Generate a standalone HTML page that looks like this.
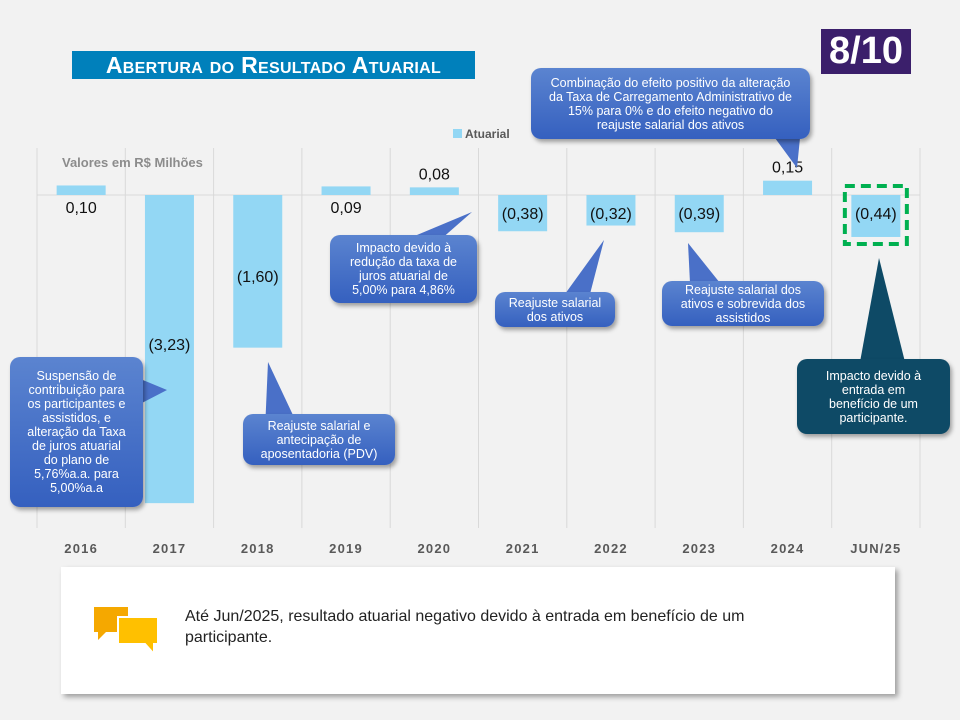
<!DOCTYPE html>
<html><head><meta charset="utf-8">
<style>
body{margin:0;width:960px;height:720px;background:#f2f2f2;font-family:"Liberation Sans",sans-serif;position:relative;overflow:hidden}
.abs{position:absolute}
.call{position:absolute;box-sizing:border-box;background:linear-gradient(#5b84d0,#3560bf);color:#fff;font-size:12.5px;text-align:center;border-radius:10px;box-shadow:2px 3px 4px rgba(0,0,0,.35);line-height:14px;display:flex;align-items:center;justify-content:center}
</style></head><body>
<div class="abs" style="left:72px;top:51px;width:403px;height:28px;background:#0080bb;color:#fff;font-weight:bold;font-size:23px;line-height:29px;text-align:center;font-variant:small-caps;letter-spacing:0.3px">Abertura do Resultado Atuarial</div>
<div class="abs" style="left:821px;top:29px;width:90px;height:45px;background:#3b1f6b;color:#fff;font-weight:bold;font-size:38px;line-height:45px;text-align:center">8/10</div>
<svg class="abs" style="left:0;top:0" width="960" height="720">
<g id="g"></g>
</svg>
<div class="call" style="left:10px;top:357px;width:133px;height:150px;padding:0 14px">Suspensão de contribuição para os participantes e assistidos, e alteração da Taxa de juros atuarial do plano de 5,76%a.a. para 5,00%a.a</div>
<div class="call" style="left:243px;top:414px;width:152px;height:51px;padding:0 10px">Reajuste salarial e antecipação de aposentadoria (PDV)</div>
<div class="call" style="left:330px;top:235px;width:147px;height:68px;padding:0 14px">Impacto devido à redução da taxa de juros atuarial de 5,00% para 4,86%</div>
<div class="call" style="left:495px;top:292px;width:120px;height:35px;padding:0 8px">Reajuste salarial dos ativos</div>
<div class="call" style="left:662px;top:281px;width:162px;height:45px;padding:0 10px">Reajuste salarial dos ativos e sobrevida dos assistidos</div>
<div class="call" style="left:531px;top:68px;width:279px;height:71px;padding:0 16px">Combinação do efeito positivo da alteração da Taxa de Carregamento Administrativo de 15% para 0% e do efeito negativo do reajuste salarial dos ativos</div>
<div class="call" style="left:797px;top:359px;width:153px;height:75px;background:#0e4a66;padding:0 18px">Impacto devido à entrada em benefício de um participante.</div>
<div class="abs" style="left:61px;top:567px;width:834px;height:127px;background:#fff;box-shadow:3px 3px 5px rgba(0,0,0,.35)"></div>
<svg class="abs" style="left:92px;top:605px" width="70" height="52">
<path d="M2 2h34v25h-22l-8 8v-8h-4z" fill="#f5a800"/>
<path d="M26 12h40v27h-4v10l-9-10h-27z" fill="#ffc000" stroke="#fff" stroke-width="2"/>
</svg>
<div class="abs" style="left:185px;top:606px;width:640px;font-size:16px;line-height:21px;color:#222">Até Jun/2025, resultado atuarial negativo devido à entrada em benefício de um participante.</div>
<script>
const categories=["2016","2017","2018","2019","2020","2021","2022","2023","2024","JUN/25"];
const values=[0.10,-3.23,-1.60,0.09,0.08,-0.38,-0.32,-0.39,0.15,-0.44];
const labels=["0,10","(3,23)","(1,60)","0,09","0,08","(0,38)","(0,32)","(0,39)","0,15","(0,44)"];
const ns="http://www.w3.org/2000/svg";
const g=document.getElementById('g');
const x0=37,x1=920,zeroY=195,k=95.4,bw=49;
const cw=(x1-x0)/categories.length;
const xc=i=>x0+cw*(i+0.5);
const y=v=>zeroY-v*k;
function mk(t,a){const e=document.createElementNS(ns,t);for(const n in a)e.setAttribute(n,a[n]);g.appendChild(e);return e;}
for(let i=0;i<=categories.length;i++){const l=mk('line',{x1:x0+cw*i,x2:x0+cw*i,y1:148,y2:528,stroke:'#d9d9d9'});

}
const z=mk('line',{x1:x0,x2:x1,y1:zeroY,y2:zeroY,stroke:'#d9d9d9'});


values.forEach((v,i)=>{
const top=Math.min(y(v),zeroY),h=Math.abs(y(v)-zeroY);
const r=mk('rect',{x:xc(i)-bw/2,y:top,width:bw,height:h,fill:'#93d7f4'});


let ly;
if(v>=0){ly=(i==0||i==3)?zeroY+18:y(v)-8;}
else{ly=(i==1)?350:(i==2?282:zeroY+24);}
const t=mk('text',{x:xc(i),y:ly,'text-anchor':'middle','font-size':16,fill:'#111'});
t.textContent=labels[i];


const c=mk('text',{x:xc(i),y:553,'text-anchor':'middle','font-size':13,'font-weight':'bold',fill:'#595959','letter-spacing':1.2});
c.textContent=categories[i];


});
const tails=[[138,378,167,390,138,405],[265,430,268,362,300,430],[405,240,472,212,440,240],[565,294,604,240,590,294],[690,283,688,243,720,283],[775,138,797,168,800,138],[860,362,879,258,905,362]];
tails.forEach((t,i)=>{const p=mk('polygon',{points:`${t[0]},${t[1]} ${t[2]},${t[3]} ${t[4]},${t[5]}`,fill:i==6?'#0e4a66':'#4a70c8'});

});
const hl=mk('rect',{x:xc(9)-31,y:186,width:62,height:58,fill:'none',stroke:'#00b050','stroke-width':4,'stroke-dasharray':'10,6'});


const lg=mk('rect',{x:453,y:129,width:9,height:9,fill:'#93d7f4'});


const lt=mk('text',{x:465,y:138,'font-size':12,'font-weight':'bold',fill:'#595959'});lt.textContent='Atuarial';


const ut=mk('text',{x:62,y:167,'font-size':13,'font-weight':'bold',fill:'#8c8c8c'});ut.textContent='Valores em R$ Milhões';


</script>
</body></html>
